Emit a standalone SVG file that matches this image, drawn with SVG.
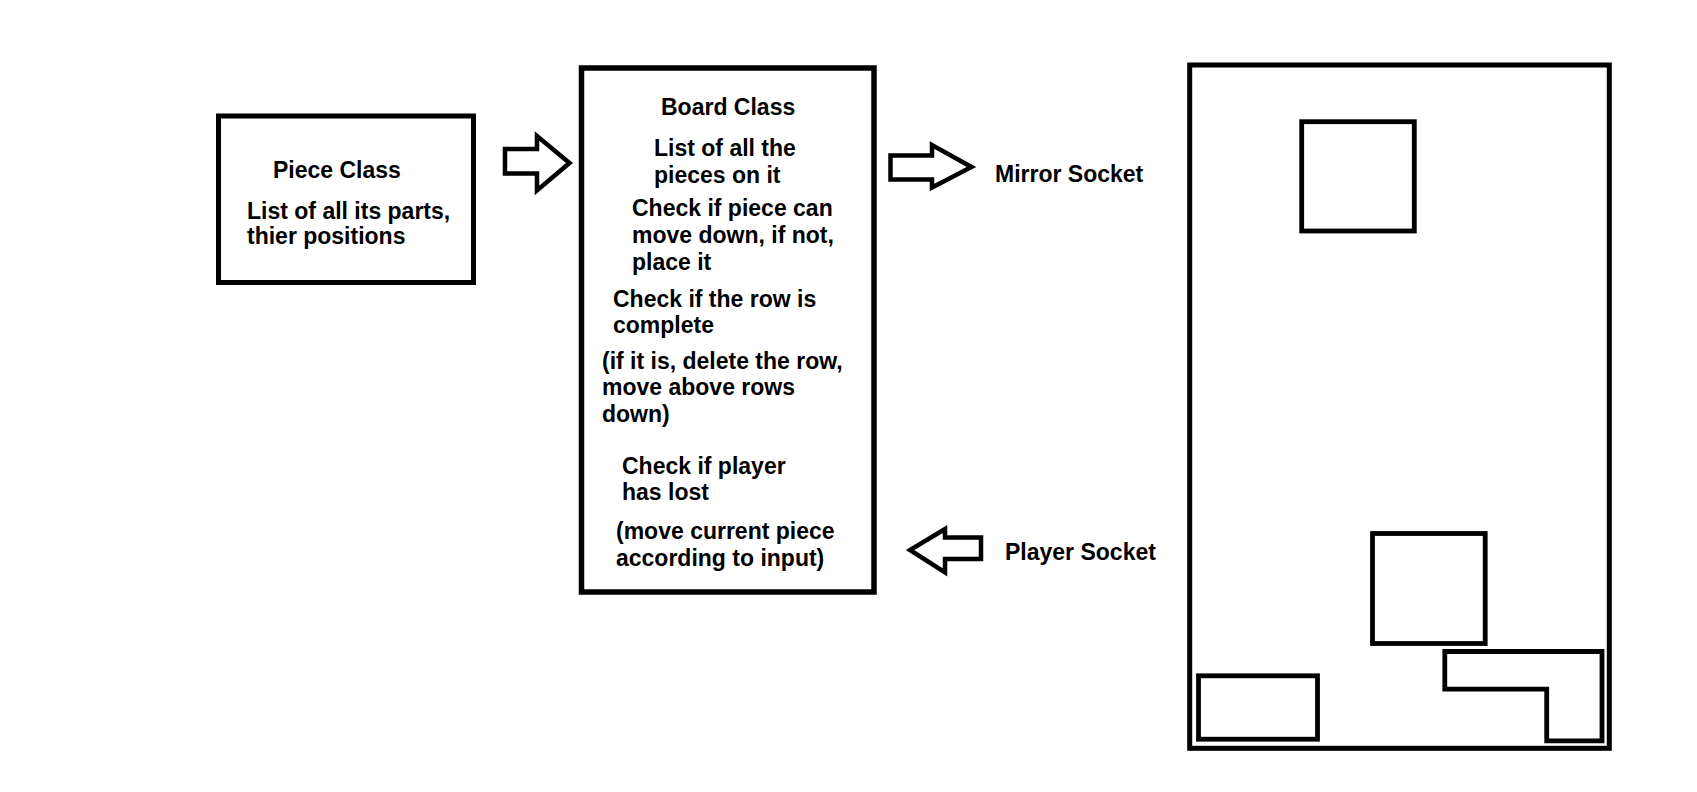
<svg xmlns="http://www.w3.org/2000/svg" width="1697" height="792" viewBox="0 0 1697 792">
<style>
.box{fill:#fff;stroke:#000;stroke-width:5}
.blk{fill:none;stroke:#000;stroke-width:4.8}
.arr{fill:#fff;stroke:#000;stroke-width:4.5;stroke-linejoin:miter}
text{font-family:"Liberation Sans",Arial,sans-serif;font-weight:bold;font-size:23px;fill:#000}
</style>
<rect width="1697" height="792" fill="#fff"/>
<g id="piece-class">
<rect class="box" x="218.5" y="116" width="255" height="166.5"/>
<text x="273" y="177.5">Piece Class</text>
<text x="247" y="218.5">List of all its parts,</text>
<text x="247" y="243.5">thier positions</text>
</g>
<g id="board-class">
<rect class="box" x="581.5" y="68" width="292.5" height="524" style="stroke-width:5.5"/>
<text x="661" y="115">Board Class</text>
<text x="654" y="156">List of all the</text>
<text x="654" y="183">pieces on it</text>
<text x="632" y="216">Check if piece can</text>
<text x="632" y="243">move down, if not,</text>
<text x="632" y="269.5">place it</text>
<text x="613" y="306.5">Check if the row is</text>
<text x="613" y="333">complete</text>
<text x="602" y="368.5">(if it is, delete the row,</text>
<text x="602" y="395">move above rows</text>
<text x="602" y="421.5">down)</text>
<text x="622" y="473.5">Check if player</text>
<text x="622" y="499.5">has lost</text>
<text x="616" y="539">(move current piece</text>
<text x="616" y="566">according to input)</text>
</g>
<g id="mirror-socket">
<text x="995" y="181.5">Mirror Socket</text>
</g>
<g id="player-socket">
<text x="1005" y="559.5">Player Socket</text>
</g>
<g id="board-view">
<rect class="box" x="1189.7" y="65" width="419.6" height="683.3"/>
<rect class="blk" x="1301.7" y="121.7" width="112.6" height="109.3"/>
<rect class="blk" x="1372.5" y="533.5" width="112.7" height="110"/>
<rect class="blk" x="1198.5" y="675.8" width="119" height="63.4"/>
<path class="blk" d="M1444.8,651.5 L1602,651.5 L1602,740.8 L1546.7,740.8 L1546.7,689.2 L1444.8,689.2 Z"/>
</g>
<g id="connectors">
<path class="arr" d="M505,149 L537,149 L537,136 L569.5,163 L537,190.5 L537,173.5 L505,173.5 Z"/>
<path class="arr" d="M890.5,155.5 L932,155.5 L932,145 L971.5,167 L932,187.5 L932,179.5 L890.5,179.5 Z"/>
<path class="arr" d="M981,537.5 L945,537.5 L945,529 L910,550 L945,572.5 L945,559 L981,559 Z"/>
</g>
</svg>
